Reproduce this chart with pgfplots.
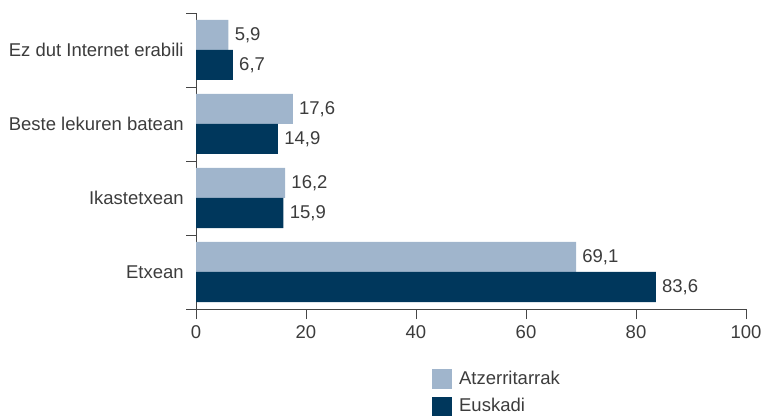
\documentclass[border=0pt]{standalone}
\usepackage{pgfplots}
\pgfplotsset{compat=1.18}
\usepackage{fontspec}
\setmainfont{Liberation Sans}
\definecolor{lightbar}{RGB}{160,181,204}
\definecolor{darkbar}{RGB}{0,55,92}
\definecolor{txt}{RGB}{60,60,60}
\definecolor{axc}{RGB}{70,70,70}
\begin{document}
\fontsize{18.5bp}{21bp}\selectfont
\begin{tikzpicture}
\path[use as bounding box] (0,0) rectangle (761bp,416bp);
\begin{axis}[
  at={(196bp,107bp)}, anchor=south west,
  scale only axis, width=550bp, height=296bp,
  xbar,
  xmin=0, xmax=100, ymin=-0.5, ymax=3.5,
  axis x line*=bottom, axis y line*=left,
  axis line style={draw=axc, line width=0.9bp},
  /pgf/number format/assume math mode=true,
  xtick={0,20,...,100},
  ytick={-0.5,0.5,1.5,2.5,3.5},
  yticklabels={},
  extra y ticks={0,1,2,3},
  extra y tick labels={Etxean,Ikastetxean,Beste lekuren batean,Ez dut Internet erabili},
  extra y tick style={tick style={draw=none}, yticklabel style={xshift=4bp}},
  tick align=outside, major tick length=10bp,
  tick style={draw=axc, line width=0.9bp},
  tick label style={text=txt},
  nodes near coords={\pgfmathprintnumber[fixed,fixed zerofill,precision=1,use comma,assume math mode=true]{\pgfplotspointmeta}},
  nodes near coords style={text=txt},
  legend style={at={(axis description cs:0.429,-0.203)}, anchor=north west, draw=none, fill=none, text=txt, inner sep=0pt, row sep=7bp},
  legend cell align=left,
  legend image code/.code={\fill[#1] (-6bp,-10bp) rectangle (14bp,10bp);},
]
\addplot[bar width=30bp, bar shift=15bp, fill=lightbar, draw=none] coordinates {(69.1,0) (16.2,1) (17.6,2) (5.9,3)};
\addplot[bar width=30bp, bar shift=-15bp, fill=darkbar, draw=none] coordinates {(83.6,0) (15.9,1) (14.9,2) (6.7,3)};
\legend{\hspace{5bp}Atzerritarrak,\hspace{5bp}Euskadi}
\end{axis}
\end{tikzpicture}
\end{document}
